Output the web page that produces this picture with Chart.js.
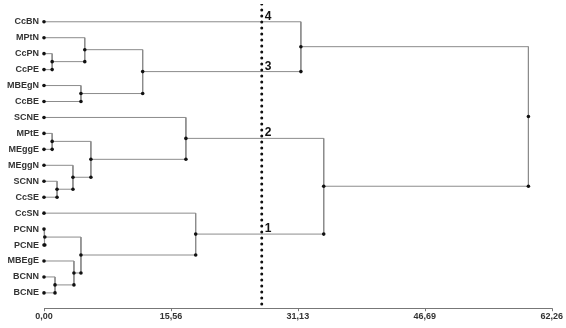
<!DOCTYPE html>
<html>
<head>
<meta charset="utf-8">
<script src="https://cdn.jsdelivr.net/npm/chart.js@4.4.0/dist/chart.umd.min.js"></script>
<style>
    html, body { margin: 0; padding: 0; background: #fff; }
    #wrap { width: 566px; height: 328px; }
</style>
</head>
<body>
<div id="wrap"><canvas id="dendro"></canvas></div>
<script>
// leaves, top to bottom
const leaves = ["CcBN", "MPtN", "CcPN", "CcPE", "MBEgN", "CcBE", "SCNE", "MPtE", "MEggE",
    "MEggN", "SCNN", "CcSE", "CcSN", "PCNN", "PCNE", "MBEgE", "BCNN", "BCNE"];

// merges: node 18 is the first merge, 19 the second, ...
const mergeLeft   = [13, 2, 7, 16, 10, 9, 15, 4, 18, 1, 20, 27, 6, 12, 0, 30, 32];
const mergeRight  = [14, 3, 8, 17, 11, 22, 21, 5, 24, 19, 23, 25, 28, 26, 29, 31, 33];
const mergeHeight = [0.1, 1.0, 1.0, 1.35, 1.6, 3.55, 3.67, 4.53, 4.53, 5.0, 5.75, 12.1, 17.4, 18.6, 31.5, 34.3, 59.4];

const tickValues = [0, 15.56, 31.13, 46.69, 62.26];
const tickLabels = ["0,00", "15,56", "31,13", "46,69", "62,26"];
const cutHeight = 26.7;

const yMin = -1.114, yMax = 17.96;

const nodeX = leaves.map(() => 0);
const nodeY = leaves.map((_, i) => i);
mergeHeight.forEach((h, k) => {
    nodeX.push(h);
    nodeY.push((nodeY[mergeLeft[k]] + nodeY[mergeRight[k]]) / 2);
});

const linkSets = mergeHeight.map((h, k) => {
    const a = mergeLeft[k], b = mergeRight[k];
    return {
        showLine: true,
        data: [
            {x: nodeX[a], y: nodeY[a]},
            {x: h, y: nodeY[a]},
            {x: h, y: nodeY[b]},
            {x: nodeX[b], y: nodeY[b]},
        ],
        borderColor: "#8c8c8c",
        borderWidth: 1,
        pointRadius: 0,
        tension: 0,
        clip: false,
    };
});

const dots = leaves.map((_, i) => ({x: 0, y: i}));
mergeHeight.forEach((h, k) => {
    dots.push({x: h, y: nodeY[leaves.length + k]});
    dots.push({x: h, y: nodeY[mergeRight[k]]});
});

// clusters cut by the dotted line, numbered from the bottom
const parentH = {};
mergeHeight.forEach((h, k) => { parentH[mergeLeft[k]] = h; parentH[mergeRight[k]] = h; });
const cutNodes = nodeX.map((x, i) => i).filter(i => nodeX[i] < cutHeight && parentH[i] > cutHeight)
    .sort((p, q) => nodeY[q] - nodeY[p]);

const overlay = {
    id: "overlay",
    afterDraw(chart) {
        const {ctx, scales: {x, y}, chartArea} = chart;
        ctx.save();
        ctx.strokeStyle = "#777";
        ctx.lineWidth = 1;
        tickValues.forEach(v => {
            const px = Math.round(x.getPixelForValue(v)) + 0.5;
            ctx.beginPath();
            ctx.moveTo(px, chartArea.bottom);
            ctx.lineTo(px, chartArea.bottom + 3);
            ctx.stroke();
        });
        ctx.fillStyle = "#111";
        ctx.font = "bold 12px 'Liberation Sans', Arial, sans-serif";
        ctx.textAlign = "left";
        ctx.textBaseline = "alphabetic";
        cutNodes.forEach((n, i) => {
            ctx.fillText(String(i + 1), x.getPixelForValue(cutHeight) + 3, y.getPixelForValue(nodeY[n]) - 2);
        });
        ctx.restore();
    }
};

new Chart(document.getElementById("dendro"), {
    type: "scatter",
    data: {
        datasets: [
            {
                data: dots,
                pointRadius: 1.8,
                pointBackgroundColor: "#111",
                pointBorderWidth: 0,
                clip: false,
            },
            {
                showLine: true,
                data: [{x: cutHeight, y: yMin}, {x: cutHeight, y: yMax}],
                borderColor: "#111",
                borderWidth: 3,
                borderDash: [0, 6],
                borderCapStyle: "round",
                pointRadius: 0,
            },
            ...linkSets,
        ],
    },
    options: {
        responsive: true,
        maintainAspectRatio: false,
        animation: false,
        layout: { padding: { left: 0, right: 13, top: 3, bottom: 3 } },
        plugins: { legend: { display: false }, tooltip: { enabled: false } },
        scales: {
            x: {
                type: "linear",
                min: 0,
                max: 62.26,
                afterBuildTicks: s => { s.ticks = tickValues.map(v => ({value: v})); },
                ticks: {
                    callback: (v, i) => tickLabels[i],
                    autoSkip: false,
                    maxRotation: 0,
                    padding: 3,
                    color: "#333",
                    font: { family: "'Liberation Sans', Arial, sans-serif", size: 9, weight: "bold" },
                },
                grid: { display: false, drawTicks: false },
                border: { display: true, color: "#777" },
            },
            y: {
                type: "linear",
                reverse: true,
                min: yMin,
                max: yMax,
                afterBuildTicks: s => { s.ticks = leaves.map((_, i) => ({value: i})); },
                afterFit: s => { s.width = 44; s.paddingTop = 0; s.paddingBottom = 0; },
                ticks: {
                    callback: (v) => leaves[v],
                    autoSkip: false,
                    padding: 5,
                    color: "#333",
                    font: { family: "'Liberation Sans', Arial, sans-serif", size: 9, weight: "bold" },
                },
                grid: { display: false, drawTicks: false },
                border: { display: false },
            },
        },
    },
    plugins: [overlay],
});
</script>
</body>
</html>
